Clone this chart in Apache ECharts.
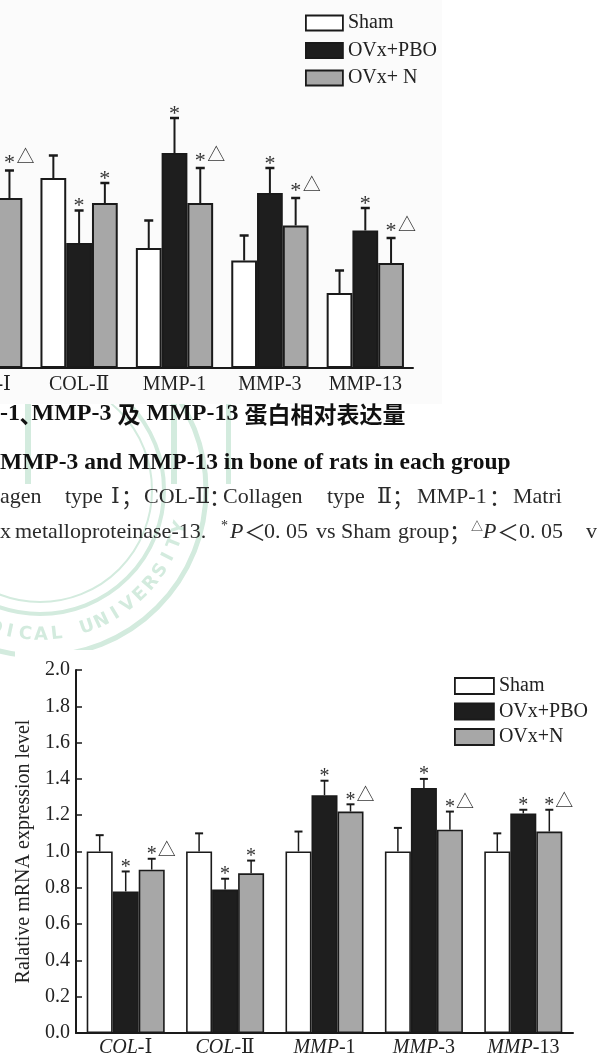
<!DOCTYPE html>
<html><head><meta charset="utf-8">
<script src="https://cdn.jsdelivr.net/npm/echarts@6/dist/echarts.min.js"></script>
<style>html,body{margin:0;padding:0;background:#fff;overflow:hidden}#c{width:598px;height:1059px}</style>
</head><body><div id="c"></div>
<script>
// ---- Top chart (protein, partly cropped on the left) ----
const categoriesTop = ['COL-Ⅰ', 'COL-Ⅱ', 'MMP-1', 'MMP-3', 'MMP-13'];
const shamTop = [0.78, 0.76, 0.48, 0.43, 0.30];
const shamTopErr = [0.09, 0.09, 0.11, 0.10, 0.09];
const pboTop = [0.50, 0.50, 0.86, 0.70, 0.55];
const pboTopErr = [0.10, 0.13, 0.14, 0.10, 0.09];
const nTop = [0.68, 0.66, 0.66, 0.57, 0.42];
const nTopErr = [0.11, 0.08, 0.14, 0.11, 0.10];
const pboTopMarks = ['*', '*', '*', '*', '*'];
const nTopMarks = ['*△', '*', '*△', '*△', '*△'];
const legendTop = ['Sham', 'OVx+PBO', 'OVx+ N'];

// ---- Bottom chart (mRNA) ----
const categoriesBottom = ['COL-Ⅰ', 'COL-Ⅱ', 'MMP-1', 'MMP-3', 'MMP-13'];
const shamBottom = [1.00, 1.00, 1.00, 1.00, 1.00];
const shamBottomErr = [0.09, 0.10, 0.11, 0.13, 0.10];
const pboBottom = [0.78, 0.79, 1.31, 1.35, 1.21];
const pboBottomErr = [0.11, 0.06, 0.08, 0.05, 0.02];
const nBottom = [0.90, 0.88, 1.22, 1.12, 1.11];
const nBottomErr = [0.06, 0.07, 0.04, 0.10, 0.12];
const pboBottomMarks = ['*', '*', '*', '*', '*'];
const nBottomMarks = ['*△', '*', '*△', '*△', '*△'];
const legendBottom = ['Sham', 'OVx+PBO', 'OVx+N'];
const yTitleBottom = 'Ralative mRNA expression level';

const SERIF = '"Liberation Serif", "DejaVu Serif", "Noto Sans CJK SC", serif';
const INK = '#1a1a1a';
const FILL = ['#ffffff', '#1e1e1e', '#a7a7a7'];

const chart = echarts.init(document.getElementById('c'), null, {renderer: 'canvas'});

function barSeries(name, values, k, gi, gap, bw) {
  return {
    type: 'bar', name: name, xAxisIndex: gi, yAxisIndex: gi,
    data: values, barGap: '0%', barCategoryGap: gap,
    itemStyle: {color: FILL[k], borderColor: INK, borderWidth: bw},
    emphasis: {disabled: true}, z: 2
  };
}

function errSeries(values, errs, marks, k, gi, gapFrac, o) {
  return {
    type: 'custom', xAxisIndex: gi, yAxisIndex: gi, z: 3, silent: true,
    data: values.map((v, i) => [i, v, errs[i]]),
    encode: {x: 0, y: 1},
    renderItem: function (params, api) {
      const i = api.value(0), v = api.value(1), e = api.value(2);
      const base = api.coord([i, v]);
      const top = api.coord([i, v + e]);
      const band = api.size([1, 0])[0];
      const bw = band * (1 - gapFrac) / 3;
      const x = base[0] + (k - 1) * bw;
      const ch = [
        {type: 'line', shape: {x1: x, y1: base[1], x2: x, y2: top[1]}, style: {stroke: INK, lineWidth: o.lw}},
        {type: 'line', shape: {x1: x - o.cap / 2, y1: top[1], x2: x + o.cap / 2, y2: top[1]}, style: {stroke: INK, lineWidth: o.capW}}
      ];
      const m = marks ? marks[params.dataIndex] : '';
      if (m) {
        const hasTri = m.indexOf('△') >= 0;
        ch.push({type: 'text', style: {text: '*', x: x, y: top[1] - (hasTri ? o.starDy2 : o.starDy), fill: '#333',
          font: o.starFont, align: 'center', verticalAlign: 'middle'}});
        if (hasTri) {
          ch.push({type: 'text', style: {text: '△', x: x + o.triDx, y: top[1] - o.triDy, fill: '#333',
            font: '18px "Noto Sans CJK SC"', align: 'center', verticalAlign: 'middle'}});
        }
      }
      return {type: 'group', children: ch};
    }
  };
}

const topOpt = {lw: 2, cap: 9, capW: 2.5, starDy: 4, starDy2: 7, triDx: 16, triDy: 14, starFont: '22px "Liberation Serif"'};
const botOpt = {lw: 1.5, cap: 8, capW: 2, starDy: 4, starDy2: 4, triDx: 15, triDy: 10, starFont: '20px "Liberation Serif"'};

// watermark (seal) elements
const wm = [];
const WC = '#d3ebde';
const cx = 40, cy = 490;
wm.push({type: 'circle', shape: {cx: cx, cy: cy, r: 166}, style: {fill: 'none', stroke: WC, lineWidth: 5}, z: -20});
wm.push({type: 'circle', shape: {cx: cx, cy: cy, r: 124}, style: {fill: 'none', stroke: WC, lineWidth: 4}, z: -20});
wm.push({type: 'circle', shape: {cx: cx, cy: cy, r: 112}, style: {fill: 'none', stroke: WC, lineWidth: 2}, z: -20});
const sealText = 'MEDICAL UNIVERSITY';
const startDeg = 71 + 6.2 * 8;
for (let j = 0; j < sealText.length; j++) {
  const th = (startDeg - 6.2 * j) * Math.PI / 180;
  const r = 145;
  wm.push({type: 'text', x: cx + r * Math.cos(th), y: cy + r * Math.sin(th),
    rotation: Math.PI / 2 - th, z: -20,
    style: {text: sealText[j], fill: WC, font: 'bold 18px "DejaVu Sans"', align: 'center', verticalAlign: 'middle'}});
}
[[25, 6], [171, 6], [226, 5]].forEach(p => wm.push({type: 'rect', shape: {x: p[0], y: 404, width: p[1], height: 80}, style: {fill: WC}, z: -20}));

// masks (the two chart images sit above the watermark)
const masks = [
  {type: 'rect', shape: {x: 0, y: 0, width: 442, height: 404}, style: {fill: '#fbfbfb'}, z: -10},
  {type: 'rect', shape: {x: 15, y: 650, width: 583, height: 409}, style: {fill: '#ffffff'}, z: -10}
];

// captions
const note = '#2b2b2b';
const t = (text, x, y, font, extra) => Object.assign({type: 'text', x: x, y: y, z: 5,
  style: Object.assign({text: text, fill: note, font: font, verticalAlign: 'middle'}, extra || {})});
const F22 = '22px ' + SERIF;
const CJ = '22px "Noto Sans CJK SC"';
const L3 = 497, L4 = 532;
const captions = [
  {type: 'text', x: 0, y: 414, z: 5, style: {
    text: '{a|-1}{c|､}{a|MMP-3 }{c|及}{a| MMP-13 }{c|蛋白相对表达量}', verticalAlign: 'middle',
    rich: {a: {font: 'bold 24px "Liberation Serif"', fill: '#111'}, c: {font: 'bold 23px "Noto Sans CJK SC"', fill: '#111'}}}},
  t('MMP-3 and MMP-13 in bone of rats in each group', 0, 463, 'bold 23.5px "Liberation Serif"', {fill: '#111'}),
  t('agen', 0, L3, F22), t('type', 65, L3, F22), t('Ⅰ', 111, L3, F22), t('；', 121, L3, CJ),
  t('COL-Ⅱ', 144, L3, F22), t('：', 209, L3, CJ),
  t('Collagen', 223, L3, F22), t('type', 327, L3, F22), t('Ⅱ', 377, L3, F22), t('；', 392, L3, CJ),
  t('MMP-1', 417, L3, F22), t('：', 489, L3, CJ),
  t('Matri', 513, L3, F22),
  t('x', 0, L4, F22), t('metalloproteinase-13.', 15, L4, F22), t('*', 221, L4 - 6, '14px "Liberation Serif"'),
  t('P', 230, L4, 'italic 22px "Liberation Serif"'), t('＜', 244, L4, CJ), t('0. 05', 264, L4, F22),
  t('vs', 316, L4, F22), t('Sham', 341, L4, F22), t('group', 398, L4, F22), t('；', 449, L4, CJ),
  t('△', 471, L4 - 6, '12px "Noto Sans CJK SC"'), t('P', 483, L4, 'italic 22px "Liberation Serif"'),
  t('＜', 497, L4, CJ), t('0. 05', 519, L4, F22), t('v', 586, L4, F22)
];

const option = {
  animation: false,
  backgroundColor: '#ffffff',
  textStyle: {fontFamily: SERIF},
  graphic: {elements: wm.concat(masks, captions)},
  legend: [
    {data: legendTop, orient: 'vertical', left: 305, top: 13, padding: 0, itemWidth: 37, itemHeight: 15, itemGap: 7.5,
      icon: 'rect', itemStyle: {borderColor: INK, borderWidth: 1.8}, selectedMode: false,
      textStyle: {fontFamily: SERIF, fontSize: 20, color: '#222', lineHeight: 15}},
    {data: legendBottom, orient: 'vertical', left: 454, top: 676, padding: 0, itemWidth: 39, itemHeight: 16, itemGap: 5.5,
      icon: 'rect', itemStyle: {borderColor: INK, borderWidth: 1.8}, selectedMode: false,
      textStyle: {fontFamily: SERIF, fontSize: 20, color: '#222', lineHeight: 16}}
  ],
  grid: [
    {left: -64, top: 68, width: 477, height: 300, outerBoundsMode: 'none', containLabel: false},
    {left: 76, top: 670, width: 497, height: 363, outerBoundsMode: 'none', containLabel: false}
  ],
  xAxis: [
    {type: 'category', gridIndex: 0, data: categoriesTop,
      axisLine: {lineStyle: {color: INK, width: 2}}, axisTick: {show: false},
      axisLabel: {interval: 0, color: '#222', fontFamily: SERIF, fontSize: 20, margin: 7}},
    {type: 'category', gridIndex: 1, data: categoriesBottom,
      axisLine: {lineStyle: {color: INK, width: 2}}, axisTick: {show: false},
      axisLabel: {interval: 0, color: '#222', fontFamily: SERIF, fontSize: 20, margin: 5,
        formatter: v => { const p = v.split('-'); return '{i|' + p[0] + '}-' + p[1]; },
        rich: {i: {fontStyle: 'italic', fontFamily: SERIF, fontSize: 20, color: '#222'}}}}
  ],
  yAxis: [
    {type: 'value', gridIndex: 0, min: 0, max: 1.2, show: false},
    {type: 'value', gridIndex: 1, min: 0, max: 2, interval: 0.2,
      name: yTitleBottom, nameLocation: 'middle', nameRotate: 90, nameGap: 42,
      nameTextStyle: {fontFamily: SERIF, fontSize: 20, color: '#222'},
      axisLine: {show: true, lineStyle: {color: INK, width: 2}},
      axisTick: {show: true, inside: true, length: 6, lineStyle: {color: INK, width: 1.5}},
      splitLine: {show: false},
      axisLabel: {color: '#222', fontFamily: SERIF, fontSize: 20, margin: 6, formatter: v => v.toFixed(1)}}
  ],
  series: [
    barSeries(legendTop[0], shamTop, 0, 0, '19%', 2),
    barSeries(legendTop[1], pboTop, 1, 0, '19%', 2),
    barSeries(legendTop[2], nTop, 2, 0, '19%', 2),
    errSeries(shamTop, shamTopErr, null, 0, 0, 0.19, topOpt),
    errSeries(pboTop, pboTopErr, pboTopMarks, 1, 0, 0.19, topOpt),
    errSeries(nTop, nTopErr, nTopMarks, 2, 0, 0.19, topOpt),
    barSeries(legendBottom[0], shamBottom, 0, 1, '21.5%', 1.6),
    barSeries(legendBottom[1], pboBottom, 1, 1, '21.5%', 1.6),
    barSeries(legendBottom[2], nBottom, 2, 1, '21.5%', 1.6),
    errSeries(shamBottom, shamBottomErr, null, 0, 1, 0.215, botOpt),
    errSeries(pboBottom, pboBottomErr, pboBottomMarks, 1, 1, 0.215, botOpt),
    errSeries(nBottom, nBottomErr, nBottomMarks, 2, 1, 0.215, botOpt)
  ]
};
chart.setOption(option);
</script>
</body></html>
